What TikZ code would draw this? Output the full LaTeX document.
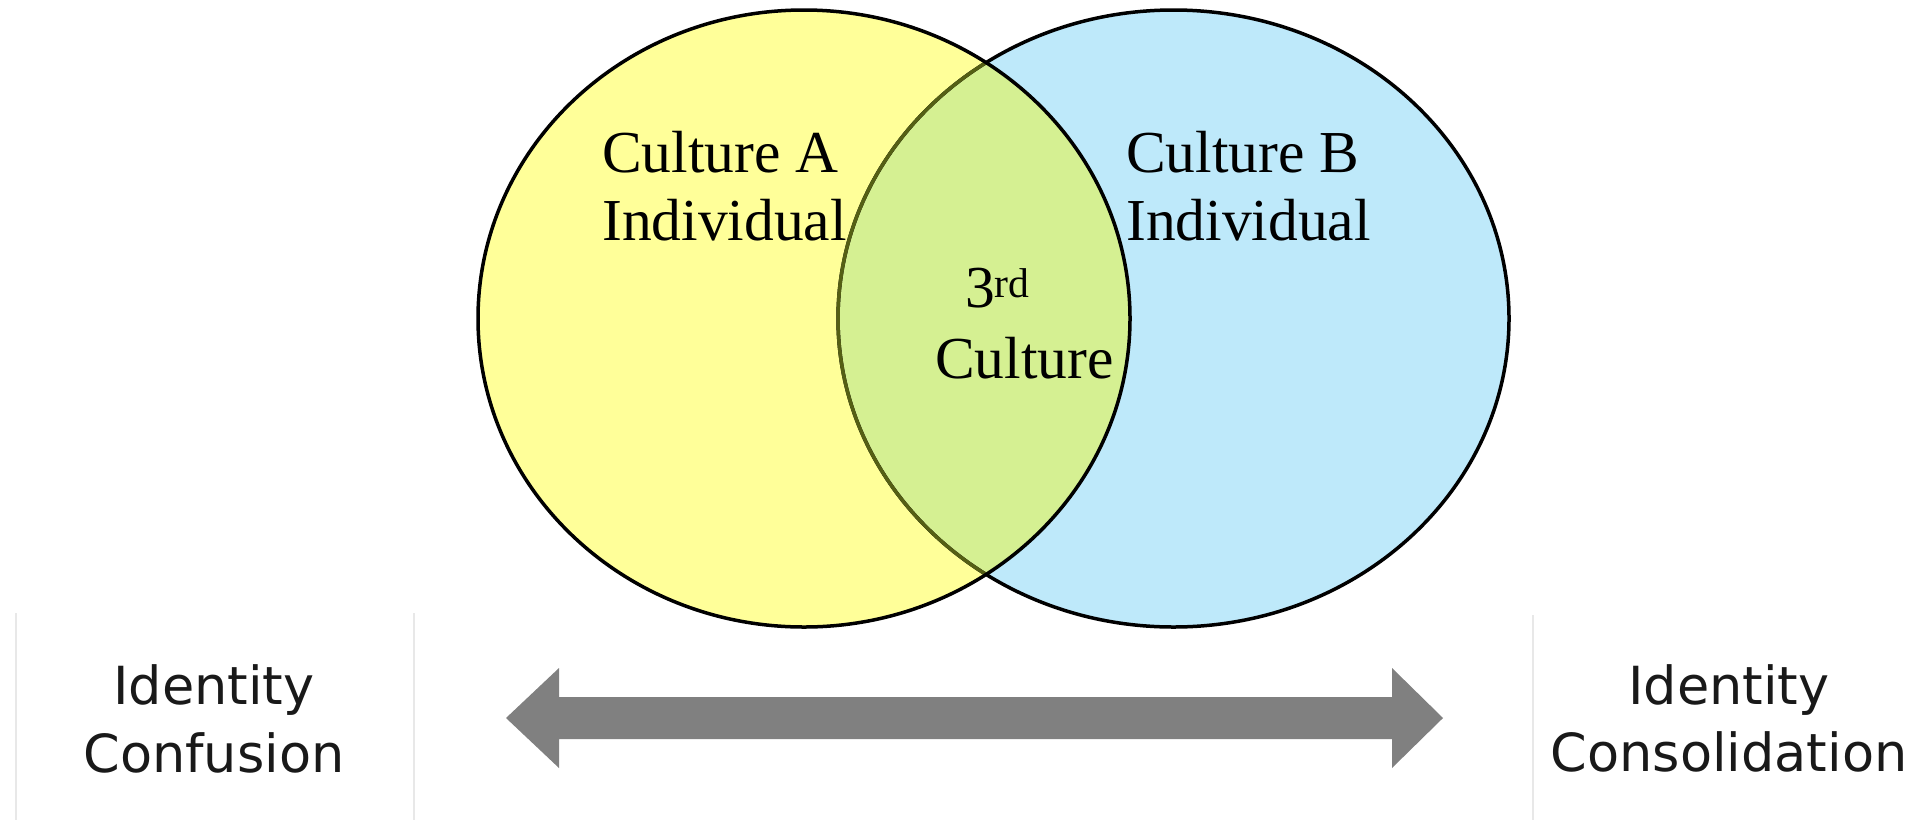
\documentclass[tikz,border=0pt]{standalone}
\usepackage{fontspec}
\setmainfont{Liberation Serif}
\newfontfamily\vsans{DejaVu Sans}
\definecolor{cyel}{RGB}{255,255,153}
\definecolor{cblu}{RGB}{190,233,250}
\definecolor{cgrn}{RGB}{213,240,146}
\definecolor{olivedark}{RGB}{85,95,20}
\definecolor{arrowgray}{RGB}{128,128,128}
\definecolor{faintgray}{RGB}{232,232,232}
\begin{document}
\begin{tikzpicture}[x=1pt,y=-1pt,
  serifline/.style={inner sep=0pt,anchor=base west,font=\fontsize{59.5}{68}\selectfont,text=black},
  sansline/.style={inner sep=0pt,anchor=base,font=\vsans\fontsize{52.5}{68}\selectfont,text=black!90},
  outline/.style={line width=3.5pt},
  faintline/.style={faintgray,line width=2pt}]
\useasboundingbox (0,0) rectangle (1926,820);
\def\leftell{(804,318.5) ellipse [x radius=326, y radius=308.5]}
\def\rightell{(1173.5,318.5) ellipse [x radius=335.5, y radius=308.5]}
% fills
\fill[cblu] \rightell;
\fill[cyel] \leftell;
\begin{scope}
  \clip \leftell;
  \fill[cgrn] \rightell;
\end{scope}
% outlines
\draw[outline] \rightell;
\begin{scope}
  \clip \leftell;
  \draw[outline,olivedark] \rightell;
\end{scope}
\draw[outline] \leftell;
% texts in circles
\node[serifline] (a1) at (602,172) {Culture A};
\node[serifline] (a2) at (602,240) {Individual};
\node[serifline] (b1) at (1126,172) {Culture B};
\node[serifline] (b2) at (1126,240) {Individual};
\node[serifline] (c1) at (965,307) {3\textsuperscript{rd}};
\node[serifline] (c2) at (935,378) {Culture};
% faint separators
\draw[faintline] (16,613) -- (16,820);
\draw[faintline] (414,613) -- (414,820);
\draw[faintline] (1533,615) -- (1533,820);
% double arrow
\fill[arrowgray] (506,718) -- (559,668) -- (559,697) -- (1392,697) -- (1392,668)
  -- (1443,718) -- (1392,768) -- (1392,739) -- (559,739) -- (559,768) -- cycle;
% bottom labels
\node[sansline] (l1) at (214,704) {Identity};
\node[sansline] (l2) at (214,772) {Confusion};
\node[sansline] (r1) at (1729,704) {Identity};
\node[sansline] (r2) at (1729,771) {Consolidation};
\end{tikzpicture}
\end{document}
